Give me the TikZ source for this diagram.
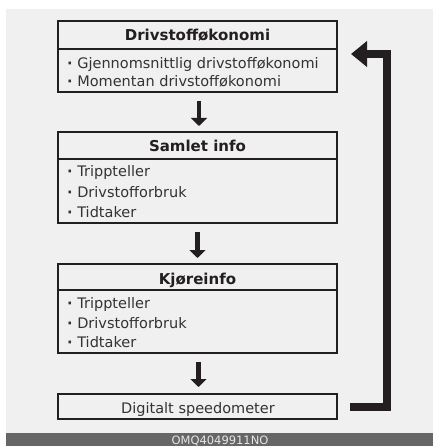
\documentclass[tikz,border=0pt]{standalone}
\usepackage{fontspec}
\setmainfont{DejaVu Sans}
\usetikzlibrary{arrows.meta}
\definecolor{bg}{HTML}{EFF0EF}
\definecolor{bar}{HTML}{666666}
\definecolor{ink}{HTML}{231F20}
\definecolor{txt}{HTML}{333333}
\newcommand{\bul}{{\bfseries ·} }
\tikzset{
  box/.style={draw=ink, line width=2pt, minimum width=279pt, inner sep=0pt},
  head/.style={font=\fontsize{15}{15}\selectfont\bfseries, text=ink, anchor=base, inner sep=0pt},
  item/.style={font=\fontsize{14.5}{14.5}\selectfont, text=txt, anchor=base west, inner sep=0pt},
  downarr/.style={draw=ink, line width=4.5pt, -{Triangle[width=16pt,length=8pt]}, shorten <=8pt},
  fb/.style={draw=ink, line width=8pt, line join=miter, -{Triangle[width=25pt,length=16pt]}},
  sep/.style={draw=ink, line width=2pt}
}
\begin{document}
\begin{tikzpicture}[x=1pt,y=-1pt]
\useasboundingbox (0,0) rectangle (433,446);
\fill[white] (0,0) rectangle (433,446);
\fill[bg] (6,9) rectangle (433,433);
\fill[bar] (6,433) rectangle (433,446);
\node[font=\fontsize{11.5}{11.5}\selectfont, text=white!90!black, anchor=base, inner sep=0pt] (code) at (220,444) {OMQ4049911NO};

% boxes
\node[box, minimum height=71pt] (b1) at (197.5,56.5) {};
\node[box, minimum height=91pt] (b2) at (197.5,177.5) {};
\node[box, minimum height=89pt] (b3) at (197.5,308.5) {};
\node[box, minimum height=25pt] (b4) at (197.5,406.5) {};

\draw[sep] (b1.west |- 0,49) -- (b1.east |- 0,49);
\draw[sep] (b2.west |- 0,159) -- (b2.east |- 0,159);
\draw[sep] (b3.west |- 0,290) -- (b3.east |- 0,290);

% texts
\node[head] (h1) at (197.5,41) {Drivstofføkonomi};
\node[item] (t11) at (67,69) {\bul Gjennomsnittlig drivstofføkonomi};
\node[item] (t12) at (67,87) {\bul Momentan drivstofføkonomi};

\node[head] (h2) at (197.5,152) {Samlet info};
\node[item] (t21) at (67,177) {\bul Trippteller};
\node[item] (t22) at (67,197) {\bul Drivstofforbruk};
\node[item] (t23) at (67,217) {\bul Tidtaker};

\node[head] (h3) at (197.5,284) {Kjøreinfo};
\node[item] (t31) at (67,308) {\bul Trippteller};
\node[item] (t32) at (67,328) {\bul Drivstofforbruk};
\node[item] (t33) at (67,347) {\bul Tidtaker};

\node[font=\fontsize{14.5}{14.5}\selectfont, text=txt, anchor=base, inner sep=0pt] (t4) at (198,413) {Digitalt speedometer};

% arrows
\draw[downarr] ([xshift=1.5pt]b1.south) -- ([xshift=1.5pt,yshift=5pt]b2.north);
\draw[downarr] ([xshift=0pt]b2.south) -- ([xshift=0pt,yshift=5pt]b3.north);
\draw[downarr] ([xshift=1pt]b3.south) -- ([xshift=1pt,yshift=6pt]b4.north);

\coordinate (bend) at (387,54);
\draw[fb] ([xshift=12pt]b4.east) -| (bend) -- ([xshift=13pt,yshift=2.5pt]b1.east);
\end{tikzpicture}
\end{document}
